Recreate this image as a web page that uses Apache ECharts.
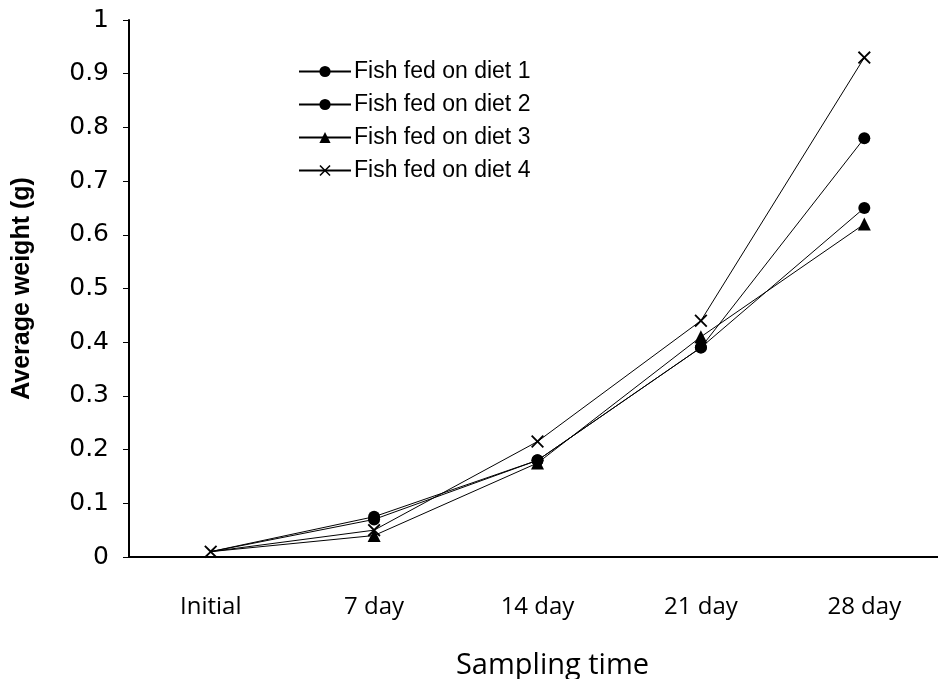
<!DOCTYPE html>
<html><head><meta charset="utf-8">
<script src="https://cdn.jsdelivr.net/npm/echarts@6/dist/echarts.min.js"></script>
<style>html,body{margin:0;padding:0;background:#fff}#c{width:938px;height:679px}</style>
</head><body><div id="c"></div>
<script>
const categories = ['Initial', '7 day', '14 day', '21 day', '28 day'];
const diet1 = [0.01, 0.075, 0.18, 0.39, 0.78];
const diet2 = [0.01, 0.07, 0.18, 0.39, 0.65];
const diet3 = [0.01, 0.04, 0.175, 0.41, 0.62];
const diet4 = [0.01, 0.05, 0.215, 0.44, 0.93];
const seriesNames = ['Fish fed on diet 1', 'Fish fed on diet 2', 'Fish fed on diet 3', 'Fish fed on diet 4'];
const xTitle = 'Sampling time';
const yTitle = 'Average weight (g)';

const crossPath = 'path://M0,1L1,0L5,4L9,0L10,1L6,5L10,9L9,10L5,6L1,10L0,9L4,5Z';
const symbols = ['circle', 'circle', 'triangle', crossPath];
const sizes = [12, 12, 13, 13];
const datas = [diet1, diet2, diet3, diet4];

const chart = echarts.init(document.getElementById('c'));
chart.setOption({
  animation: false,
  backgroundColor: '#fff',
  grid: { left: 129, width: 817, top: 20, height: 537, containLabel: false, outerBoundsMode: 'none' },
  legend: {
    orient: 'vertical', left: 293, top: 55, itemGap: 10, itemWidth: 52, itemHeight: 14,
    textStyle: { fontFamily: 'Liberation Sans, Arial', fontSize: 23, color: '#000', padding: [0,0,0,-2] },
    data: seriesNames
  },
  xAxis: {
    type: 'category', data: categories, boundaryGap: true,
    name: xTitle, nameLocation: 'middle', nameGap: 94,
    nameTextStyle: { fontFamily: 'Open Sans', fontSize: 29, color: '#000', padding: [0, 0, 0, 30] },
    axisLine: { lineStyle: { color: '#000', width: 2 } },
    axisTick: { show: false },
    axisLabel: { color: '#000', fontFamily: 'Open Sans', fontSize: 24, margin: 38 },
    splitLine: { show: false }
  },
  yAxis: {
    type: 'value', min: 0, max: 1, interval: 0.1,
    name: yTitle, nameLocation: 'middle', nameGap: 94, nameRotate: 90,
    nameTextStyle: { fontFamily: 'Liberation Sans, Arial', fontWeight: 'bold', fontSize: 25, color: '#000' },
    axisLine: { show: true, lineStyle: { color: '#000', width: 2 } },
    axisTick: { show: true, inside: false, length: 6, lineStyle: { color: '#000', width: 1 } },
    axisLabel: { color: '#000', fontFamily: 'DejaVu Sans', fontSize: 25, margin: 20,
      formatter: v => String(Math.round(v * 10) / 10) },
    splitLine: { show: false }
  },
  series: seriesNames.map((n, i) => ({
    name: n, type: 'line',
    data: datas[i].map((v, j) => (j === 0 && i < 3) ? { value: v, symbol: 'none' } : v),
    symbol: symbols[i], symbolSize: sizes[i], showAllSymbol: true,
    lineStyle: { color: '#000', width: 1 },
    itemStyle: { color: '#000', borderColor: '#000', borderWidth: 0 },
    z: 2 + i
  }))
});
</script></body></html>
